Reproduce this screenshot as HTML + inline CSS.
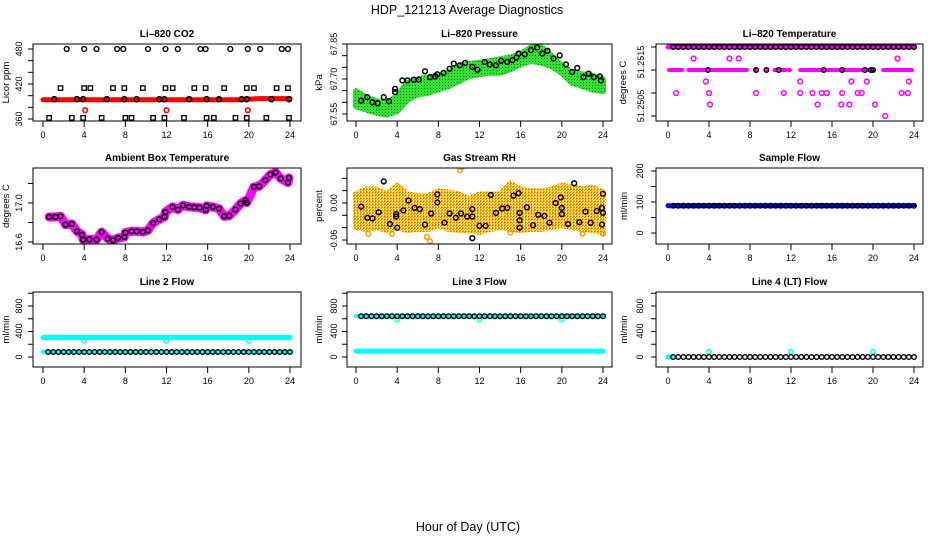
<!DOCTYPE html>
<html><head><meta charset="utf-8">
<style>
html,body{margin:0;padding:0;background:#fff;}
svg{display:block;font-family:"Liberation Sans",Arial,sans-serif;}
</style></head>
<body>
<svg id="c" width="936" height="540" viewBox="0 0 936 540" xmlns="http://www.w3.org/2000/svg">
<defs>
<pattern id="gp" width="3" height="3" patternUnits="userSpaceOnUse"><rect width="3" height="3" fill="#33e033"/><rect x="1" y="1" width="1" height="1" fill="#0a7a0a"/></pattern>
<pattern id="op" width="3" height="3" patternUnits="userSpaceOnUse"><rect width="3" height="3" fill="#ffb000"/><rect width="1" height="1" fill="#ff4000"/><rect x="1" y="1" width="1" height="1" fill="#ffff40"/><rect x="2" y="2" width="1" height="1" fill="#ffffff"/><rect x="2" y="0" width="1" height="1" fill="#ffe080"/></pattern>
</defs>
<text x="467" y="14" text-anchor="middle" font-size="12.5">HDP_121213  Average Diagnostics</text>
<text x="468" y="531" text-anchor="middle" font-size="12.5">Hour of Day (UTC)</text>
</svg>
<script>
// ---------- data ----------
const xTicks=[0,4,8,12,16,20,24];
const hours=[0,1,2,3,4,5,6,7,8,9,10,11,12,13,14,15,16,17,18,19,20,21,22,23,24];
const halfT=[0.5,1,1.5,2,2.5,3,3.5,4,4.5,5,5.5,6,6.5,7,7.5,8,8.5,9,9.5,10,10.5,11,11.5,12,12.5,13,13.5,14,14.5,15,15.5,16,16.5,17,17.5,18,18.5,19,19.5,20,20.5,21,21.5,22,22.5,23,23.5,24];

// CO2
const co2Red=[393,393,393,393,393,393,393,393,393,393,393,393,393,393,393,393,393,393,393,393,394,395,395,395,395];
const co2RedOutT=[4.1,12.0,19.9];
const co2RedOutV=[375,375,375];
const co2HiT=[2.3,4.0,5.2,7.2,7.8,10.2,11.9,13.1,15.3,15.8,18.2,19.9,21.1,23.2,23.8];
const co2HiV=[480,480,480,480,480,480,480,480,480,480,480,480,480,480,480];
const co2SqT=[1.7,4.0,4.6,6.8,7.9,9.7,11.9,12.6,14.7,15.8,17.6,19.8,20.5,22.7,23.8];
const co2SqV=[413,413,413,413,413,413,413,413,413,413,413,413,413,413,413];
const co2MidT=[1.1,3.3,3.9,6.2,7.9,9.1,11.3,11.8,14.2,15.9,17.1,19.3,19.8,22.2,23.9];
const co2MidV=[394,394,394,394,394,394,394,394,394,394,394,394,394,394,394];
const co2LoT=[0.6,2.8,3.9,5.7,8.0,8.6,10.7,11.8,13.7,15.9,16.6,18.7,19.8,21.7,23.9];
const co2LoV=[362,362,362,362,362,362,362,362,362,362,362,362,362,362,362];

// Pressure
const presUpper=[67.648,67.620,67.605,67.597,67.626,67.684,67.698,67.706,67.713,67.727,67.756,67.763,67.770,67.777,67.785,67.792,67.806,67.835,67.835,67.799,67.756,67.727,67.720,67.713,67.698];
const presLower=[67.583,67.569,67.555,67.547,67.562,67.612,67.634,67.641,67.655,67.670,67.691,67.713,67.720,67.727,67.727,67.742,67.763,67.778,67.770,67.756,67.727,67.684,67.670,67.655,67.648];
const presBlkT=[0.5,1.1,1.6,2.1,2.7,3.2,3.8,3.8,4.5,5.0,5.6,6.1,6.7,7.2,7.7,7.9,8.5,9.1,9.5,10.1,10.6,11.3,11.8,12.5,13.0,13.6,14.1,14.7,15.2,15.6,15.8,16.4,17.0,17.6,18.1,18.6,19.2,19.8,20.4,21.0,21.5,22.1,22.6,23.1,23.7,23.8];
const presBlkV=[67.607,67.622,67.600,67.596,67.622,67.605,67.658,67.644,67.694,67.694,67.697,67.697,67.733,67.708,67.711,67.720,67.726,67.744,67.766,67.759,67.769,67.752,67.740,67.773,67.762,67.759,67.778,67.773,67.781,67.792,67.809,67.806,67.824,67.835,67.809,67.821,67.788,67.801,67.762,67.730,67.747,67.708,67.723,67.708,67.711,67.694];

// Li-820 temperature (levels in degC)
const tTopT=[0.5,1,1.5,2,2.5,3,3.5,4,4.5,5,5.5,6,6.5,7,7.5,8,8.5,9,9.5,10,10.5,11,11.5,12,12.5,13,13.5,14,14.5,15,15.5,16,16.5,17,17.5,18,18.5,19,19.5,20,20.5,21,21.5,22,22.5,23,23.5,24];
const tTopV=[51.2520,51.2520,51.2520,51.2520,51.2520,51.2520,51.2520,51.2520,51.2520,51.2520,51.2520,51.2520,51.2520,51.2520,51.2520,51.2520,51.2520,51.2520,51.2520,51.2520,51.2520,51.2520,51.2520,51.2520,51.2520,51.2520,51.2520,51.2520,51.2520,51.2520,51.2520,51.2520,51.2520,51.2520,51.2520,51.2520,51.2520,51.2520,51.2520,51.2520,51.2520,51.2520,51.2520,51.2520,51.2520,51.2520,51.2520,51.2520];
const tMidSegStart=[0.1,2.0,8.5,9.5,10.4,11.8,12.9,16.3,21.0];
const tMidSegEnd=[1.4,7.7,8.7,9.6,11.5,11.9,16.1,20.0,23.8];
const tMidV=51.2515;
const tMidBlkT=[3.9,8.6,9.6,10.8,15.2,17.0,19.2,19.8,20.0];
const tScatT=[2.5,6.0,6.9,22.4,3.7,12.9,17.9,19.4,23.5,0.8,4.0,8.6,11.3,12.9,14.1,15.0,15.5,17.0,18.5,18.9,22.8,23.4,4.1,14.6,16.9,17.7,20.2,21.2];
const tScatV=[51.25175,51.25175,51.25175,51.25175,51.25125,51.25125,51.25125,51.25125,51.25125,51.2510,51.2510,51.2510,51.2510,51.2510,51.2510,51.2510,51.2510,51.2510,51.2510,51.2510,51.2510,51.2510,51.25075,51.25075,51.25075,51.25075,51.25075,51.2505];

// Ambient box temperature
const ambT=[0.6,1.2,1.7,2.2,2.8,3.3,3.8,3.9,4.5,5.2,5.7,6.3,6.8,7.3,7.9,8.0,8.6,9.1,9.7,10.2,10.7,11.3,11.8,11.9,12.6,13.1,13.6,14.2,14.7,15.2,15.8,15.9,16.5,17.1,17.6,18.1,18.7,19.2,19.7,19.8,20.5,21.0,21.6,22.1,22.6,23.1,23.8,23.9];
const ambV=[16.857,16.857,16.864,16.778,16.785,16.710,16.675,16.624,16.627,16.624,16.702,16.634,16.617,16.641,16.651,16.696,16.710,16.710,16.702,16.720,16.795,16.832,16.857,16.908,16.960,16.932,16.976,16.960,16.956,16.953,16.929,16.970,16.960,16.942,16.864,16.870,16.932,16.994,17.028,17.004,17.165,17.172,17.234,17.292,17.313,17.251,17.210,17.258];

// Gas stream RH
const rhUpper=[0.014,0.022,0.022,0.014,0.028,0.014,0.011,0.011,0.019,0.017,0.014,0.006,0.014,0.014,0.014,0.031,0.022,0.019,0.019,0.022,0.028,0.025,0.022,0.025,0.017];
const rhLower=[-0.039,-0.042,-0.039,-0.044,-0.039,-0.044,-0.042,-0.042,-0.036,-0.042,-0.044,-0.044,-0.047,-0.042,-0.039,-0.042,-0.044,-0.042,-0.042,-0.039,-0.036,-0.039,-0.042,-0.044,-0.047];
const rhOutT=[10.3,10.1,7.2,6.9,3.5,22.0,24.0,15.0,1.2];
const rhOutV=[0.058,0.053,-0.062,-0.055,-0.05,-0.05,-0.05,-0.048,-0.05];
const rhBlkT=[0.5,1.1,1.6,2.2,2.7,3.3,3.9,3.9,4.0,4.6,5.1,5.7,6.2,6.7,7.3,7.9,7.9,8.6,9.1,9.7,10.2,10.8,11.3,11.3,11.3,12.0,12.6,13.1,13.6,14.2,14.7,15.3,15.8,15.9,15.9,15.9,16.6,17.2,17.7,18.3,18.8,19.4,19.9,20.0,20.0,20.6,21.2,21.7,22.3,22.8,23.4,24.0,23.9,24.0,23.9];
const rhBlkV=[-0.006,-0.024,-0.025,-0.015,0.035,-0.034,-0.018,-0.022,-0.040,-0.012,0.004,-0.008,-0.010,-0.035,-0.017,0.014,0.001,-0.032,-0.017,-0.024,-0.017,-0.022,-0.057,-0.010,-0.022,-0.037,-0.037,0.013,-0.016,-0.009,-0.008,0.012,0.016,-0.016,-0.028,-0.040,-0.007,-0.036,-0.019,-0.021,-0.032,0.000,0.009,-0.008,-0.018,-0.034,0.032,-0.031,-0.014,-0.032,-0.013,0.015,-0.008,-0.016,-0.035];

// Flows
const sampleLine=[88,88,88,88,88,88,88,88,88,88,88,88,88,88,88,88,88,88,88,88,88,88,88,88,88];
const sampleBlk=[88,88,88,88,88,88,88,88,88,88,88,88,88,88,88,88,88,88,88,88,88,88,88,88,88,88,88,88,88,88,88,88,88,88,88,88,88,88,88,88,88,88,88,88,88,88,88,88];
const line2Cyan=[305,305,305,305,305,305,305,305,305,305,305,305,305,305,305,305,305,305,305,305,305,305,305,305,305];
const line2Low=[80,80,80,80,80,80,80,80,80,80,80,80,80,80,80,80,80,80,80,80,80,80,80,80,80];
const line2Blk=[78,78,78,78,78,78,78,78,78,78,78,78,78,78,78,78,78,78,78,78,78,78,78,78,78,78,78,78,78,78,78,78,78,78,78,78,78,78,78,78,78,78,78,78,78,78,78,78];
const flowDipT=[4,12,20];
const line2DipV=[255,255,255];
const line3Cyan=[640,640,640,640,640,640,640,640,640,640,640,640,640,640,640,640,640,640,640,640,640,640,640,640,640];
const line3Low=[92,92,92,92,92,92,92,92,92,92,92,92,92,92,92,92,92,92,92,92,92,92,92,92,92];
const line3Blk=[640,640,640,640,640,640,640,640,640,640,640,640,640,640,640,640,640,640,640,640,640,640,640,640,640,640,640,640,640,640,640,640,640,640,640,640,640,640,640,640,640,640,640,640,640,640,640,640];
const line3DipV=[590,590,590];
const line4Blk=[0,0,0,0,0,0,0,0,0,0,0,0,0,0,0,0,0,0,0,0,0,0,0,0,0,0,0,0,0,0,0,0,0,0,0,0,0,0,0,0,0,0,0,0,0,0,0,0];
const line4SpikeV=[80,80,80];

// ---------- drawing ----------
const svg=document.getElementById('c');
const NS='http://www.w3.org/2000/svg';
function mk(tag,attrs,parent){const e=document.createElementNS(NS,tag);for(const k in attrs)e.setAttribute(k,attrs[k]);(parent||svg).appendChild(e);return e;}

function makePanel(name,box,xpx,ya,yb,title){
  const g=mk('g',{});
  
  
  const X=t=>xpx[0]+(t/24)*(xpx[1]-xpx[0]);
  const Y=v=>ya[1]+(v-ya[0])*(yb[1]-ya[1])/(yb[0]-ya[0]);
  const p={g,box,X,Y};
  const cp='cp-'+name;
  const clip=mk('clipPath',{id:cp},g);
  mk('rect',{x:box.l,y:box.t,width:box.r-box.l,height:box.b-box.t},clip);
  p.data=mk('g',{'clip-path':'url(#'+cp+')'},g);
  const t=mk('text',{x:(box.l+box.r)/2,y:box.t-7,'text-anchor':'middle','font-size':'10','font-weight':'bold'},g);
  t.textContent=title;
  
  
  return p;
}
function frame(p,yTicks,yLabels,labX,yTitle,titleX){
  const {g,box,X,Y}=p;
  const r=mk('rect',{x:box.l,y:box.t,width:box.r-box.l,height:box.b-box.t,fill:'none',stroke:'#000','stroke-width':1},g);
  
  
  const xa=mk('g',{},g);
  
  
  xTicks.forEach(t=>{
    mk('line',{x1:X(t),x2:X(t),y1:box.b,y2:box.b+6,stroke:'#000'},xa);
    const tx=mk('text',{x:X(t),y:box.b+17,'text-anchor':'middle','font-size':'9'},xa);
    tx.textContent=t;
  });
  const ya=mk('g',{},g);
  
  
  yTicks.forEach(v=>mk('line',{x1:box.l-5,x2:box.l,y1:Y(v),y2:Y(v),stroke:'#000'},ya));
  yLabels.forEach(([txt,py])=>{
    const tx=mk('text',{x:labX,y:py,'text-anchor':'middle','font-size':'9',transform:'rotate(-90 '+labX+' '+py+')'},ya);
    tx.textContent=txt;
  });
  const yt=mk('text',{x:titleX,y:(box.t+box.b)/2,'text-anchor':'middle','font-size':'9.5',transform:'rotate(-90 '+titleX+' '+(box.t+box.b)/2+')'},g);
  yt.textContent=yTitle;
  
  
}
function pts(p,T,V,color,r,sw,fill,name){
  const gg=mk('g',{},p.data);
  
  
  T.forEach((t,i)=>{
    mk('circle',{cx:p.X(t),cy:p.Y(V[i]),r:r,fill:fill||'none',stroke:color,'stroke-width':sw},gg);
  });
}
function sq(p,T,V,color,name){
  const gg=mk('g',{},p.data);
  
  
  T.forEach((t,i)=>mk('rect',{x:p.X(t)-2.2,y:p.Y(V[i])-2.2,width:4.4,height:4.4,fill:'none',stroke:color,'stroke-width':1.3},gg));
}
function line(p,T,V,color,w,name){
  const l=mk('polyline',{points:T.map((t,i)=>p.X(t)+','+p.Y(V[i])).join(' '),fill:'none',stroke:color,'stroke-width':w,'stroke-linecap':'round','stroke-linejoin':'round'},p.data);
  
  
}
function band(p,T,U,L,fill,name){
  const up=T.map((t,i)=>p.X(t)+','+p.Y(U[i]));
  const lo=T.map((t,i)=>p.X(t)+','+p.Y(L[i])).reverse();
  const b=mk('polygon',{points:up.concat(lo).join(' '),fill:fill,stroke:fill,'stroke-width':6,'stroke-linejoin':'round'},p.data);
  
  
}

const C1={l:33,r:301},C2={l:347,r:612},C3={l:656,r:923};
const X1=[43,290],X2=[356,603],X3=[668,914];
const R1={t:44,b:121},R2={t:168,b:244},R3={t:292,b:367};
const B=(c,r)=>({l:c.l,r:c.r,t:r.t,b:r.b});

// P1 CO2
let p=makePanel('li820-co2-panel',B(C1,R1),X1,[360,119],[480,49],'Li–820 CO2');
line(p,hours,co2Red,'#ff0000',5,'co2-red-series');
pts(p,co2RedOutT,co2RedOutV,'#ff0000',2.3,1.6,null,'co2-red-outliers');
pts(p,co2HiT,co2HiV,'#000',2.4,1.4,null,'co2-black-480');
sq(p,co2SqT,co2SqV,'#000','co2-black-squares');
pts(p,co2MidT,co2MidV,'#000',2.5,1.6,null,'co2-black-mid');
sq(p,co2LoT,co2LoV,'#000','co2-black-low');
frame(p,[360,380,400,420,440,460,480],[['360',119],['420',84],['480',49]],22,'Licor ppm',9);

// P2 Pressure
p=makePanel('li820-pressure-panel',B(C2,R1),X2,[67.55,114],[67.85,44],'Li–820 Pressure');
band(p,hours,presUpper,presLower,'url(#gp)','pressure-green-band');
pts(p,presBlkT,presBlkV,'#000',2.4,1.5,null,'pressure-black-points');
frame(p,[67.55,67.60,67.65,67.70,67.75,67.80,67.85],[['67.55',114],['67.70',79],['67.85',44]],337,'kPa',322);

// P3 Li-820 temperature
p=makePanel('li820-temperature-panel',B(C3,R1),X3,[51.2505,116],[51.2520,47],'Li–820 Temperature');
line(p,[0,24],[tTopV[0],tTopV[0]],'#ff00ff',5,'temp-magenta-top');
tMidSegStart.forEach((s,i)=>line(p,[s,tMidSegEnd[i]],[tMidV,tMidV],'#ff00ff',4,'temp-magenta-mid'));
pts(p,tTopT,tTopV,'#000',2.3,1.4,null,'temp-black-top');
pts(p,tMidBlkT,tMidBlkT.map(()=>tMidV),'#000',2.3,1.4,null,'temp-black-mid');
pts(p,tScatT,tScatV,'#ff00ff',2.4,1.5,null,'temp-magenta-scatter');
frame(p,[51.2505,51.2510,51.2515,51.2520],[['51.2515',62],['51.2505',106]],644,'degrees C',626);

// P4 Ambient
p=makePanel('ambient-box-temperature-panel',B(C1,R2),X1,[16.6,242],[17.0,203],'Ambient Box Temperature');
line(p,ambT,ambV,'#ff00ff',9,'ambient-magenta-series');
pts(p,ambT,ambV,'#000',2.4,1.5,null,'ambient-black-points');
frame(p,[16.6,16.8,17.0,17.2],[['16.6',242],['17.0',203]],22,'degrees C',9);

// P5 RH
p=makePanel('gas-stream-rh-panel',B(C2,R2),X2,[-0.06,240],[0.0,203],'Gas Stream RH');
band(p,hours,rhUpper,rhLower,'url(#op)','rh-orange-band');
pts(p,rhOutT,rhOutV,'#ff9900',2.3,1.5,null,'rh-orange-outliers');
pts(p,rhBlkT,rhBlkV,'#000',2.4,1.5,null,'rh-black-points');
frame(p,[-0.06,-0.04,-0.02,0,0.02,0.04],[['-0.06',240],['0.00',203]],337,'percent',322);

// P6 Sample flow
p=makePanel('sample-flow-panel',B(C3,R2),X3,[0,233],[200,171],'Sample Flow');
line(p,hours,sampleLine,'#0000ff',5,'sample-blue-series');
pts(p,halfT,sampleBlk,'#000',2.3,1.4,null,'sample-black-points');
frame(p,[0,50,100,150,200],[['0',233],['100',202],['200',171]],643,'ml/min',627);

// P7 Line 2
p=makePanel('line2-flow-panel',B(C1,R3),X1,[0,357],[800,306],'Line 2 Flow');
line(p,hours,line2Cyan,'#00ffff',5,'line2-cyan-series');
line(p,hours,line2Low,'#00ffff',4,'line2-cyan-low');
pts(p,flowDipT,line2DipV,'#00ffff',2.3,1.5,null,'line2-cyan-dips');
pts(p,halfT,line2Blk,'#000',2.3,1.4,null,'line2-black-points');
frame(p,[0,200,400,600,800,1000],[['0',357],['400',331],['800',306]],22,'ml/min',9);

// P8 Line 3
p=makePanel('line3-flow-panel',B(C2,R3),X2,[0,357],[800,306],'Line 3 Flow');
line(p,hours,line3Low,'#00ffff',5,'line3-cyan-low');
line(p,hours,line3Cyan,'#00ffff',4,'line3-cyan-series');
pts(p,flowDipT,line3DipV,'#00ffff',2.3,1.5,null,'line3-cyan-dips');
pts(p,halfT,line3Blk,'#000',2.3,1.4,null,'line3-black-points');
frame(p,[0,200,400,600,800,1000],[['0',357],['400',331],['800',306]],337,'ml/min',322);

// P9 Line 4
p=makePanel('line4-flow-panel',B(C3,R3),X3,[0,357],[800,306],'Line 4 (LT) Flow');
line(p,[0,0.3],[0,0],'#00ffff',5,'line4-cyan-start');
pts(p,flowDipT,line4SpikeV,'#00ffff',2.3,1.5,null,'line4-cyan-spikes');
pts(p,halfT,line4Blk,'#000',2.3,1.4,null,'line4-black-points');
frame(p,[0,200,400,600,800,1000],[['0',357],['400',331],['800',306]],643,'ml/min',627);
</script>
</body></html>
